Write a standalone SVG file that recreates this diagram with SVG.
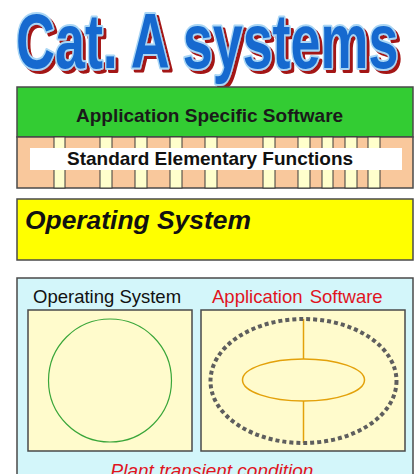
<svg xmlns="http://www.w3.org/2000/svg" width="415" height="474" viewBox="0 0 415 474">
  <defs>
    <!-- dark red drop shadow for the heading -->
    <filter id="redShadow" x="-5%" y="-10%" width="115%" height="130%">
      <feOffset in="SourceAlpha" dx="3" dy="3" result="off"/>
      <feFlood flood-color="#a31414" result="red"/>
      <feComposite in="red" in2="off" operator="in" result="shadow"/>
      <feMerge>
        <feMergeNode in="shadow"/>
        <feMergeNode in="SourceGraphic"/>
      </feMerge>
    </filter>
  </defs>
  <style>
    .sans { font-family: "Liberation Sans", Arial, sans-serif; }
    .bold { font-weight: bold; }
    .frame { stroke: #4a4a4a; stroke-width: 1.5; }
    .col { fill: #ffffcc; stroke: #3a3a3a; stroke-width: 1; }
  </style>
  <rect width="415" height="474" fill="#ffffff"/>

  <!-- title -->
  <g id="title" filter="url(#redShadow)">
    <text transform="translate(16,68) scale(0.7,1)" class="sans bold" font-size="77" fill="#1569cf" stroke="#a9d6f5" stroke-width="4" stroke-linejoin="round" paint-order="stroke">Cat. A systems</text>
  </g>

  <!-- software stack -->
  <g id="app-software">
    <rect x="17" y="87" width="396" height="50" fill="#33cc33" class="frame"/>
    <text x="76" y="122" class="sans bold" font-size="19" fill="#1a1a1a">Application Specific Software</text>
  </g>

  <g id="elementary-functions">
    <rect x="17" y="137" width="396" height="51" fill="#f9c89c" class="frame"/>
    <g>
      <rect x="54" y="137" width="11" height="51" class="col"/>
      <rect x="100" y="137" width="12" height="51" class="col"/>
      <rect x="135" y="137" width="12" height="51" class="col"/>
      <rect x="170" y="137" width="12" height="51" class="col"/>
      <rect x="205" y="137" width="12" height="51" class="col"/>
      <rect x="263" y="137" width="12" height="51" class="col"/>
      <rect x="298" y="137" width="12" height="51" class="col"/>
      <rect x="322" y="137" width="11" height="51" class="col"/>
      <rect x="345" y="137" width="12" height="51" class="col"/>
      <rect x="368" y="137" width="12" height="51" class="col"/>
    </g>
    <rect x="30" y="148" width="372" height="22" fill="#ffffff"/>
    <text x="67" y="165" class="sans bold" font-size="19" fill="#111111">Standard Elementary Functions</text>
  </g>

  <g id="operating-system">
    <rect x="17" y="199" width="396" height="61" fill="#ffff00" class="frame"/>
    <text x="25" y="229" class="sans bold" font-style="italic" font-size="26.4" fill="#111111">Operating System</text>
  </g>

  <!-- behaviour panel -->
  <g id="panel">
    <rect x="17" y="278" width="396" height="200" fill="#d3f6fa" class="frame"/>
    <text x="33" y="303" class="sans" font-size="18.5" fill="#111111">Operating System</text>
    <text x="212" y="303" class="sans" font-size="18.5" fill="#e0141e" word-spacing="2">Application Software</text>
    <text x="212" y="477" class="sans" font-style="italic" font-size="19" fill="#e0141e" text-anchor="middle">Plant transient condition</text>
  </g>

  <g id="os-box">
    <rect x="28" y="310" width="164" height="141" fill="#fffbcc" class="frame"/>
    <circle cx="110" cy="380.5" r="61.5" fill="none" stroke="#3aa63a" stroke-width="1.2"/>
  </g>

  <g id="app-box">
    <rect x="201" y="310" width="204" height="141" fill="#fffbcc" class="frame"/>
    <line x1="303.5" y1="319" x2="303.5" y2="359" stroke="#e3a10a" stroke-width="1.5"/>
    <line x1="303.5" y1="401" x2="303.5" y2="443" stroke="#e3a10a" stroke-width="1.5"/>
    <ellipse cx="303.5" cy="380" rx="61" ry="21" fill="none" stroke="#e3a10a" stroke-width="1.5"/>
    <ellipse cx="303.5" cy="381" rx="93" ry="62" fill="none" stroke="#5e5e5e" stroke-width="4" stroke-dasharray="4 3"/>
  </g>
</svg>
